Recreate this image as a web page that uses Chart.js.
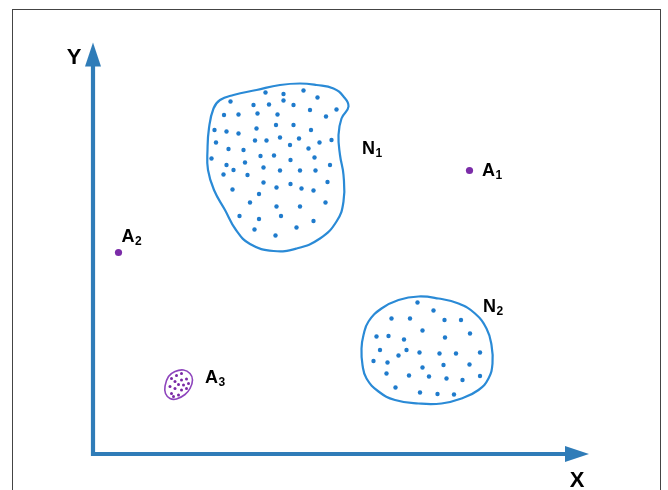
<!DOCTYPE html>
<html>
<head>
<meta charset="utf-8">
<script src="https://cdn.jsdelivr.net/npm/chart.js@4"></script>
<style>
  html, body { margin: 0; padding: 0; background: #fff; }
  #wrap { position: relative; width: 668px; height: 490px; }
  #frame { position: absolute; left: 12px; top: 9px; width: 649px; height: 490px;
           border-left: 1.5px solid #444; border-top: 1.5px solid #444; border-right: 1.5px solid #444; box-sizing: border-box; }
  canvas { position: absolute; left: 0; top: 0; }
</style>
</head>
<body>
<div id="wrap">
  <div id="frame"></div>
  <canvas id="c" width="668" height="490"></canvas>
</div>
<script>
// ---- data (abstract units: x 0..100, y 0..84) ----
const normal1Points = [
  [34.5,72.3],[38.1,72.0],[42.1,72.7],[44.9,71.3],[27.5,70.5],[32.1,69.8],[35.2,69.9],[38.1,70.7],
  [40.1,69.8],[48.7,68.9],[43.4,68.8],[26.2,67.8],[29.1,67.9],[32.9,68.1],[36.9,67.9],[46.6,67.5],
  [24.3,64.8],[26.7,64.5],[29.1,64.1],[32.7,65.1],[36.6,65.8],[40.1,65.8],[43.6,64.8],[24.6,62.3],
  [32.4,62.7],[34.7,62.7],[37.4,63.3],[41.2,63.1],[39.4,61.8],[45.3,62.3],[47.7,62.8],[27.1,61.0],
  [30.1,60.8],[33.5,59.6],[36.2,59.7],[43.1,61.1],[39.5,58.8],[44.3,59.3],[23.7,59.1],[26.7,57.8],
  [30.4,58.3],[34.1,57.3],[37.4,56.7],[41.4,56.7],[44.5,56.7],[47.4,57.8],[26.1,55.9],[28.1,56.8],
  [30.9,55.8],[34.1,54.3],[36.7,53.3],[39.5,54.0],[41.7,53.1],[44.1,52.7],[46.9,54.4],[27.9,52.9],
  [33.2,52.0],[31.4,50.3],[36.7,49.5],[41.4,49.5],[46.5,50.3],[29.3,47.6],[33.2,47.0],[37.6,47.6],
  [44.1,46.6],[40.7,45.3],[32.3,44.9],[36.5,43.7]
];
const normal1Outline = [
  [24.1,69.1],[25.4,70.8],[28.1,71.8],[32.7,72.8],[37.4,73.8],[41.4,74.1],[44.7,73.8],[48.1,73.1],
  [50.1,71.5],[51.1,69.5],[49.7,67.1],[49.1,63.8],[49.4,59.8],[50.1,55.8],[50.1,50.5],[48.7,46.5],
  [45.4,43.1],[40.7,41.1],[36.1,40.6],[31.4,42.0],[28.6,44.8],[26.4,48.8],[24.2,52.8],[23.0,56.8],
  [22.9,60.8],[23.2,65.2]
];
const normal2Points = [
  [64.9,30.3],[68.1,28.7],[59.7,27.1],[63.4,27.1],[70.3,26.8],[73.6,26.8],[65.9,24.7],[56.7,23.5],
  [59.1,23.6],[62.2,22.9],[70.4,23.3],[75.4,24.1],[57.4,20.8],[62.7,20.8],[65.3,20.3],[61.1,19.7],
  [69.3,20.1],[72.6,20.1],[77.4,20.3],[56.1,18.6],[58.9,18.3],[65.9,17.3],[70.1,17.8],[75.3,17.9],
  [58.7,16.1],[63.2,15.7],[67.2,15.5],[70.7,15.1],[73.9,14.8],[77.4,15.6],[60.5,13.3],[65.4,12.3],
  [68.9,12.0],[72.2,11.9]
];
const normal2Outline = [
  [53.7,21.1],[54.1,23.8],[55.1,26.5],[57.7,29.1],[61.1,30.8],[65.1,31.5],[69.1,31.1],[73.1,30.1],
  [76.4,28.1],[78.7,25.1],[79.7,21.8],[79.9,18.1],[79.1,15.1],[77.1,12.8],[73.7,11.1],[69.7,10.1],
  [65.1,10.1],[60.4,10.8],[57.1,12.5],[54.7,15.1],[53.9,17.8]
];
const anomaly3Points = [
  [17.7,16.1],[16.7,15.7],[15.7,15.1],[17.7,14.8],[18.7,15.0],[16.4,14.5],[17.1,13.9],[18.1,13.8],
  [19.1,14.1],[15.4,13.5],[16.4,13.1],[17.7,12.8],[18.7,13.1],[15.7,12.1],[17.1,11.8],[16.1,11.5]
];
const anomaly3Outline = [
  [14.4,13.5],[15.1,15.5],[16.4,16.5],[18.1,16.8],[19.4,16.1],[19.9,14.8],[19.4,13.1],[18.4,11.9],
  [16.7,11.0],[15.4,11.1],[14.5,12.1]
];
const anomalyPoints = [[75.3,56.7],[5.1,40.3]]; // A1, A2
// labels: [main, subscript, x, y] (left / baseline anchor in data units)
const pointLabels = [
  ["N","1",53.8,60.1],
  ["A","1",77.8,55.7],
  ["A","2",5.7,42.5],
  ["A","3",22.4,14.3],
  ["N","2",78.0,28.5]
];
const axisLabels = [["Y",-3.8,78.1],["X",96.8,-6.6]];
const axisEnds = { x: 99.2, y: 82.3 };

// ---- helpers ----
const toXY = a => a.map(p => ({x: p[0], y: p[1]}));
function closedLoop(pts, color, width) {
  const n = pts.length;
  const data = toXY([pts[n-1], ...pts, pts[0], pts[1]]);
  const last = data.length - 2;
  return {
    type: 'scatter', data, showLine: true, tension: 0.45, pointRadius: 0,
    borderColor: color, borderWidth: width, fill: false, clip: false,
    segment: {
      borderColor: ctx => (ctx.p0DataIndex === 0 || ctx.p0DataIndex >= last) ? 'rgba(0,0,0,0)' : color
    }
  };
}
function dots(pts, color, r) {
  return { type: 'scatter', data: toXY(pts), pointRadius: r, pointBackgroundColor: color,
           pointBorderWidth: 0, showLine: false, clip: false };
}

const AXIS = '#2f7cb8';
const overlay = {
  id: 'overlay',
  afterDatasetsDraw(chart) {
    const ctx = chart.ctx, xs = chart.scales.x, ys = chart.scales.y;
    const X = v => xs.getPixelForValue(v), Y = v => ys.getPixelForValue(v);
    const ox = X(0), oy = Y(0);
    const headLen = 24, headHalf = 8;
    ctx.save();
    ctx.strokeStyle = AXIS; ctx.lineWidth = 4.2; ctx.lineCap = 'butt'; ctx.lineJoin = 'miter';
    const ty = Y(axisEnds.y), tx = X(axisEnds.x);
    ctx.beginPath();
    ctx.moveTo(ox, ty + headLen - 1);
    ctx.lineTo(ox, oy);
    ctx.lineTo(tx - headLen + 1, oy);
    ctx.stroke();
    ctx.fillStyle = AXIS;
    ctx.beginPath();
    ctx.moveTo(ox, ty); ctx.lineTo(ox - headHalf, ty + headLen); ctx.lineTo(ox + headHalf, ty + headLen); ctx.closePath(); ctx.fill();
    ctx.beginPath();
    ctx.moveTo(tx, oy); ctx.lineTo(tx - headLen, oy - headHalf); ctx.lineTo(tx - headLen, oy + headHalf); ctx.closePath(); ctx.fill();
    ctx.fillStyle = '#000';
    ctx.font = 'bold 22px "Liberation Sans", Arial, sans-serif';
    ctx.textAlign = 'center'; ctx.textBaseline = 'alphabetic';
    axisLabels.forEach(l => ctx.fillText(l[0], X(l[1]), Y(l[2])));
    ctx.textAlign = 'left';
    pointLabels.forEach(l => {
      const px = X(l[2]), py = Y(l[3]);
      ctx.font = 'bold 18px "Liberation Sans", Arial, sans-serif';
      ctx.fillText(l[0], px, py);
      const w = ctx.measureText(l[0]).width;
      ctx.font = 'bold 12px "Liberation Sans", Arial, sans-serif';
      ctx.fillText(l[1], px + w + 0.5, py + 3);
    });
    ctx.restore();
  }
};

new Chart(document.getElementById('c'), {
  type: 'scatter',
  data: {
    datasets: [
      closedLoop(normal1Outline, '#2a8ad6', 2.2),
      closedLoop(normal2Outline, '#2a8ad6', 2.2),
      closedLoop(anomaly3Outline, '#8e45bd', 1.6),
      dots(normal1Points, '#1f7bcc', 2.2),
      dots(normal2Points, '#1f7bcc', 2.2),
      dots(anomaly3Points, '#7a2aa6', 1.5),
      dots(anomalyPoints, '#7b2ca8', 3.6)
    ]
  },
  options: {
    responsive: false,
    devicePixelRatio: 1,
    animation: false,
    events: [],
    layout: { padding: { left: 93, right: 75, top: 34, bottom: 36 } },
    scales: {
      x: { type: 'linear', min: 0, max: 100, display: false },
      y: { type: 'linear', min: 0, max: 84, display: false }
    },
    plugins: { legend: { display: false }, tooltip: { enabled: false } }
  },
  plugins: [overlay]
});
</script>
</body>
</html>
